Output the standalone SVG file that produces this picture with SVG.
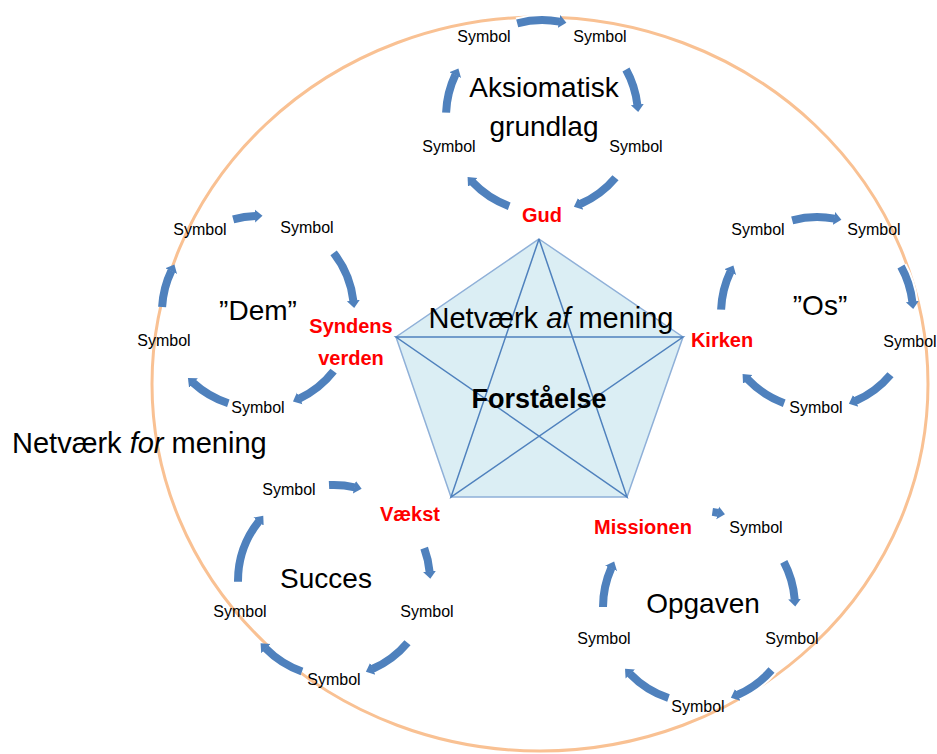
<svg xmlns="http://www.w3.org/2000/svg" xmlns:xlink="http://www.w3.org/1999/xlink" width="937" height="754" viewBox="0 0 937 754">
<style>
text{font-family:"Liberation Sans",Arial,sans-serif;fill:#000}
.sym{font-size:16px;text-anchor:middle}
.key{font-size:20px;font-weight:bold;fill:#ff0000;text-anchor:middle}
.title{font-size:28px;text-anchor:middle}
.halo{fill:none;stroke:#ffffff;stroke-width:12}
.arr{fill:none;stroke:#4f81bd;stroke-width:8;marker-end:url(#ah)}
.star{fill:none;stroke:#4f81bd;stroke-width:1.5}
</style>
<defs>
<marker id="ah" markerUnits="userSpaceOnUse" markerWidth="10" markerHeight="16" viewBox="0 -8 10 16" refX="0.5" refY="0" orient="auto">
<path d="M0,-6.5 L7.5,0 L0,6.5 Z" fill="#4f81bd"/>
</marker>
<path id="a1" d="M517.2,23.3 A96 96 0 0 1 559.5,21.6"/>
<path id="a2" d="M626.0,69.5 A96 96 0 0 1 637.4,105.1"/>
<path id="a3" d="M615.5,177.7 A96 96 0 0 1 580.3,204.0"/>
<path id="a4" d="M509.2,206.2 A96 96 0 0 1 472.4,182.1"/>
<path id="a5" d="M446.1,112.6 A96 96 0 0 1 455.4,74.7"/>
<path id="b1" d="M233.2,219.3 A96 96 0 0 1 255.5,216.0"/>
<path id="b2" d="M333.6,252.9 A96 96 0 0 1 353.4,301.1"/>
<path id="b3" d="M333.6,371.1 A96 96 0 0 1 299.3,398.6"/>
<path id="b4" d="M228.3,403.3 A96 96 0 0 1 193.1,382.8"/>
<path id="b5" d="M162.1,307.0 A96 96 0 0 1 171.4,270.7"/>
<path id="c1" d="M792.2,220.3 A96 96 0 0 1 834.5,218.6"/>
<path id="c2" d="M901.0,266.5 A96 96 0 0 1 912.4,302.1"/>
<path id="c3" d="M890.5,374.7 A96 96 0 0 1 855.3,401.0"/>
<path id="c4" d="M784.2,403.2 A96 96 0 0 1 747.4,379.1"/>
<path id="c5" d="M721.1,309.6 A96 96 0 0 1 730.4,271.7"/>
<path id="d1" d="M329.0,485.1 A96 96 0 0 1 354.8,487.3"/>
<path id="d2" d="M424.2,548.2 A96 96 0 0 1 429.6,571.8"/>
<path id="d3" d="M407.5,642.7 A96 96 0 0 1 372.3,669.0"/>
<path id="d4" d="M302.0,671.5 A96 96 0 0 1 265.5,648.3"/>
<path id="d5" d="M238.0,581.8 A96 96 0 0 1 258.9,521.2"/>
<path id="e1" d="M712.4,511.9 A96 96 0 0 1 718.1,512.9"/>
<path id="e2" d="M783.8,561.9 A96 96 0 0 1 794.7,599.5"/>
<path id="e3" d="M771.5,670.0 A96 96 0 0 1 737.3,695.0"/>
<path id="e4" d="M668.5,698.0 A96 96 0 0 1 629.9,673.7"/>
<path id="e5" d="M603.0,607.0 A96 96 0 0 1 611.3,568.0"/>
</defs>
<rect width="937" height="754" fill="#ffffff"/>
<g id="outer-ring">
<ellipse cx="540" cy="384" rx="388" ry="367" fill="none" stroke="#f9c193" stroke-width="3"/>
</g>
<g id="pentagon">
<polygon points="539,239 683,337 627,497 451,497 396,337" fill="#dbeef4" stroke="#8fb0d8" stroke-width="1.5"/>
<polyline class="star" points="539,239 451,497 683,337 396,337 627,497 539,239"/>
</g>
<g id="connectors">
<g id="halos">
<use class="halo" xlink:href="#a1"/><use class="halo" xlink:href="#a2"/><use class="halo" xlink:href="#a3"/><use class="halo" xlink:href="#a4"/><use class="halo" xlink:href="#a5"/>
<use class="halo" xlink:href="#b1"/><use class="halo" xlink:href="#b2"/><use class="halo" xlink:href="#b3"/><use class="halo" xlink:href="#b4"/><use class="halo" xlink:href="#b5"/>
<use class="halo" xlink:href="#c1"/><use class="halo" xlink:href="#c2"/><use class="halo" xlink:href="#c3"/><use class="halo" xlink:href="#c4"/><use class="halo" xlink:href="#c5"/>
<use class="halo" xlink:href="#d1"/><use class="halo" xlink:href="#d2"/><use class="halo" xlink:href="#d3"/><use class="halo" xlink:href="#d4"/><use class="halo" xlink:href="#d5"/>
<use class="halo" xlink:href="#e1"/><use class="halo" xlink:href="#e2"/><use class="halo" xlink:href="#e3"/><use class="halo" xlink:href="#e4"/><use class="halo" xlink:href="#e5"/>
</g>
<use class="arr" xlink:href="#a1"/><use class="arr" xlink:href="#a2"/><use class="arr" xlink:href="#a3"/><use class="arr" xlink:href="#a4"/><use class="arr" xlink:href="#a5"/>
<use class="arr" xlink:href="#b1"/><use class="arr" xlink:href="#b2"/><use class="arr" xlink:href="#b3"/><use class="arr" xlink:href="#b4"/><use class="arr" xlink:href="#b5"/>
<use class="arr" xlink:href="#c1"/><use class="arr" xlink:href="#c2"/><use class="arr" xlink:href="#c3"/><use class="arr" xlink:href="#c4"/><use class="arr" xlink:href="#c5"/>
<use class="arr" xlink:href="#d1"/><use class="arr" xlink:href="#d2"/><use class="arr" xlink:href="#d3"/><use class="arr" xlink:href="#d4"/><use class="arr" xlink:href="#d5"/>
<use class="arr" xlink:href="#e1"/><use class="arr" xlink:href="#e2"/><use class="arr" xlink:href="#e3"/><use class="arr" xlink:href="#e4"/><use class="arr" xlink:href="#e5"/>
</g>
<g id="center-labels">
<text x="551" y="328" style="font-size:29px;text-anchor:middle">Netværk <tspan font-style="italic">af</tspan> mening</text>
<text x="539" y="408" style="font-size:27px;font-weight:bold;text-anchor:middle">Forståelse</text>
</g>
<g id="label-netvaerk-for">
<text x="12" y="453" style="font-size:29px">Netværk <tspan font-style="italic">for</tspan> mening</text>
</g>
<g id="cycle-gud">
<text class="title" x="544" y="97">Aksiomatisk</text>
<text class="title" x="544" y="136">grundlag</text>
<g id="n-gud"><text class="key" x="542" y="222">Gud</text></g>
<g id="n-gud-s1"><text class="sym" x="484" y="42">Symbol</text></g>
<g id="n-gud-s2"><text class="sym" x="600" y="42">Symbol</text></g>
<g id="n-gud-s3"><text class="sym" x="636" y="152">Symbol</text></g>
<g id="n-gud-s4"><text class="sym" x="449" y="152">Symbol</text></g>
</g>
<g id="cycle-dem">
<text class="title" x="258" y="320">”Dem”</text>
<g id="n-syndens"><text class="key" x="351" y="333">Syndens</text><text class="key" x="351" y="365">verden</text></g>
<g id="n-dem-s1"><text class="sym" x="200" y="235">Symbol</text></g>
<g id="n-dem-s2"><text class="sym" x="307" y="233">Symbol</text></g>
<g id="n-dem-s3"><text class="sym" x="258" y="413">Symbol</text></g>
<g id="n-dem-s4"><text class="sym" x="164" y="346">Symbol</text></g>
</g>
<g id="cycle-os">
<text class="title" x="820" y="315">”Os”</text>
<g id="n-kirken"><text class="key" x="722" y="347">Kirken</text></g>
<g id="n-os-s1"><text class="sym" x="758" y="235">Symbol</text></g>
<g id="n-os-s2"><text class="sym" x="874" y="235">Symbol</text></g>
<g id="n-os-s3"><text class="sym" x="910" y="347">Symbol</text></g>
<g id="n-os-s4"><text class="sym" x="816" y="413">Symbol</text></g>
</g>
<g id="cycle-succes">
<text class="title" x="326" y="588">Succes</text>
<g id="n-vaekst"><text class="key" x="410" y="521">Vækst</text></g>
<g id="n-succes-s1"><text class="sym" x="289" y="495">Symbol</text></g>
<g id="n-succes-s2"><text class="sym" x="427" y="617">Symbol</text></g>
<g id="n-succes-s3"><text class="sym" x="334" y="685">Symbol</text></g>
<g id="n-succes-s4"><text class="sym" x="240" y="617">Symbol</text></g>
</g>
<g id="cycle-opgaven">
<text class="title" x="703" y="613">Opgaven</text>
<g id="n-missionen"><text class="key" x="643" y="534">Missionen</text></g>
<g id="n-opg-s1"><text class="sym" x="756" y="533">Symbol</text></g>
<g id="n-opg-s2"><text class="sym" x="792" y="644">Symbol</text></g>
<g id="n-opg-s3"><text class="sym" x="698" y="712">Symbol</text></g>
<g id="n-opg-s4"><text class="sym" x="604" y="644">Symbol</text></g>
</g>
</svg>
